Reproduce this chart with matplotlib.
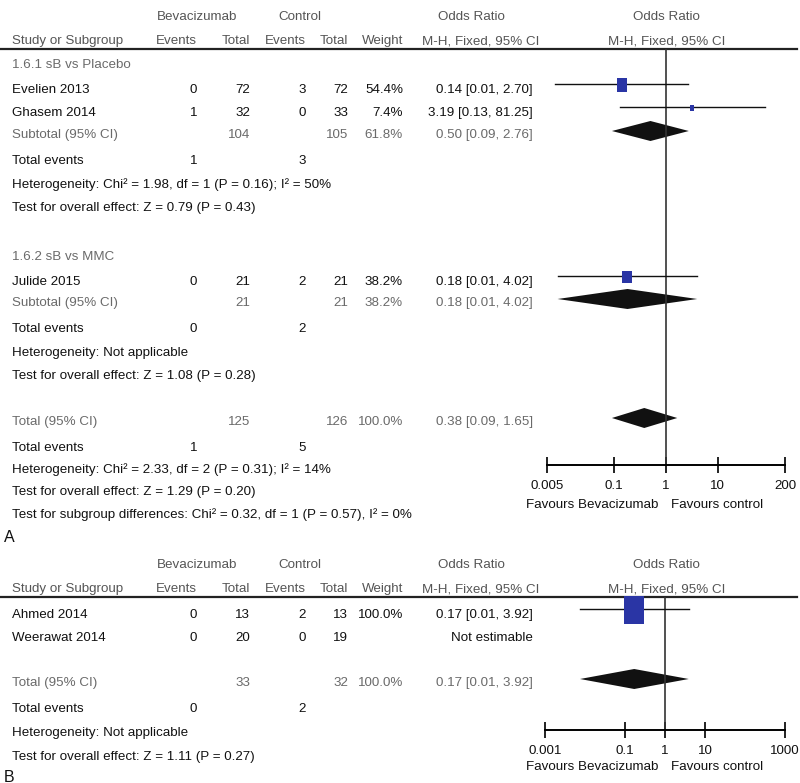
import numpy as np
import matplotlib.pyplot as plt

plt.rcParams['font.family'] = ['Liberation Sans', 'DejaVu Sans']

#%% data, panel A
groups_a = ['1.6.1 sB vs Placebo', '1.6.2 sB vs MMC']
studies_a = ['Evelien 2013', 'Ghasem 2014', 'Julide 2015']
bev_events_a = [0, 1, 0]
bev_total_a = [72, 32, 21]
ctl_events_a = [3, 0, 2]
ctl_total_a = [72, 33, 21]
weight_a = [54.4, 7.4, 38.2]
or_a = [0.14, 3.19, 0.18]
lo_a = [0.007, 0.13, 0.008]      # drawn line ends (labels round to 0.01)
hi_a = [2.70, 81.25, 4.02]
or_text_a = ['0.14 [0.01, 2.70]', '3.19 [0.13, 81.25]', '0.18 [0.01, 4.02]']

sub_bev_total = [104, 21]
sub_ctl_total = [105, 21]
sub_weight = [61.8, 38.2]
sub_or = [0.50, 0.18]
sub_lo = [0.09, 0.008]
sub_hi = [2.76, 4.02]
sub_text = ['0.50 [0.09, 2.76]', '0.18 [0.01, 4.02]']
sub_bev_events = [1, 0]
sub_ctl_events = [3, 2]
sub_het = ['Heterogeneity: Chi² = 1.98, df = 1 (P = 0.16); I² = 50%',
           'Heterogeneity: Not applicable']
sub_z = ['Test for overall effect: Z = 0.79 (P = 0.43)',
         'Test for overall effect: Z = 1.08 (P = 0.28)']

tot_a = [125, 126, 100.0]
tot_a_or = [0.38, 0.09, 1.65]
tot_a_text = '0.38 [0.09, 1.65]'
tot_a_events = [1, 5]
tot_a_notes = ['Heterogeneity: Chi² = 2.33, df = 2 (P = 0.31); I² = 14%',
               'Test for overall effect: Z = 1.29 (P = 0.20)',
               'Test for subgroup differences: Chi² = 0.32, df = 1 (P = 0.57), I² = 0%']
ticks_a = [0.005, 0.1, 1, 10, 200]

#%% data, panel B
studies_b = ['Ahmed 2014', 'Weerawat 2014']
bev_events_b = [0, 0]
bev_total_b = [13, 20]
ctl_events_b = [2, 0]
ctl_total_b = [13, 19]
weight_b = [100.0, None]
or_b = [0.17, None]
lo_b = [0.0075, None]
hi_b = [3.92, None]
or_text_b = ['0.17 [0.01, 3.92]', 'Not estimable']

tot_b = [33, 32, 100.0]
tot_b_or = [0.17, 0.0075, 3.92]
tot_b_text = '0.17 [0.01, 3.92]'
tot_b_events = [0, 2]
tot_b_notes = ['Heterogeneity: Not applicable',
               'Test for overall effect: Z = 1.11 (P = 0.27)']
ticks_b = [0.001, 0.1, 1, 10, 1000]

#%% layout
W, H = 800, 783
FS = 9.6
BLACK, GRAY, HEAD = '#111111', '#6a6a6a', '#555555'
BLUE = '#2a35a5'
X_NAME, X_BEV_EV, X_BEV_TOT, X_CTL_EV, X_CTL_TOT, X_W, X_OR = 12, 197, 250, 306, 348, 403, 533
RECT = [(-0.37, -0.5), (0.37, -0.5), (0.37, 0.5), (-0.37, 0.5), (-0.37, -0.5)]

fig = plt.figure(figsize=(W / 100, H / 100), dpi=100)
tx = fig.add_axes([0, 0, 1, 1])
tx.set_xlim(0, W)
tx.set_ylim(H, 0)
tx.axis('off')


def put(x, y, s, ha='right', color=BLACK, size=FS):
    tx.text(x, y, s, ha=ha, va='center', color=color, fontsize=size)


def header(y0):
    put(197, y0, 'Bevacizumab', ha='center', color=HEAD)
    put(300, y0, 'Control', ha='center', color=HEAD)
    put(471, y0, 'Odds Ratio', ha='center', color=HEAD)
    put(666, y0, 'Odds Ratio', ha='center', color=HEAD)
    y1 = y0 + 24
    put(X_NAME, y1, 'Study or Subgroup', ha='left', color=HEAD)
    put(X_BEV_EV, y1, 'Events', color=HEAD)
    put(X_BEV_TOT, y1, 'Total', color=HEAD)
    put(X_CTL_EV, y1, 'Events', color=HEAD)
    put(X_CTL_TOT, y1, 'Total', color=HEAD)
    put(X_W, y1, 'Weight', color=HEAD)
    put(481, y1, 'M-H, Fixed, 95% CI', ha='center', color=HEAD)
    put(667, y1, 'M-H, Fixed, 95% CI', ha='center', color=HEAD)
    tx.plot([0, 797], [y0 + 32, y0 + 32], color='#222222', lw=1.6)


def forest_axes(x0, x1, ytop, ybot, lims, ticks, yfav):
    ax = fig.add_axes([x0 / W, 1 - ybot / H, (x1 - x0) / W, (ybot - ytop) / H])
    ax.set_xscale('log')
    ax.set_xlim(lims)
    ax.set_ylim(ybot, ytop)
    ax.patch.set_alpha(0)
    for s in ['top', 'left', 'right']:
        ax.spines[s].set_visible(False)
    ax.spines['bottom'].set_linewidth(1.4)
    ax.set_yticks([])
    ax.set_xticks(ticks)
    ax.set_xticklabels([f'{t:g}' for t in ticks])
    ax.minorticks_off()
    ax.tick_params(axis='x', direction='inout', length=12, width=1.3, pad=5,
                   labelsize=FS, colors=BLACK)
    ax.axvline(1, color='#333333', lw=1.2)
    put(592, yfav, 'Favours Bevacizumab', ha='center')
    put(717, yfav, 'Favours control', ha='center')
    return ax


def study(ax, y, name, be, bt, ce, ct, w, txt, est, lo, hi, scale):
    put(X_NAME, y, name, ha='left')
    put(X_BEV_EV, y, be)
    put(X_BEV_TOT, y, bt)
    put(X_CTL_EV, y, ce)
    put(X_CTL_TOT, y, ct)
    if w is not None:
        put(X_W, y, f'{w:.1f}%')
    put(X_OR, y, txt)
    if est is not None:
        ax.plot([lo, hi], [y - 6, y - 6], color=BLACK, lw=1, clip_on=False)
        ax.plot([est], [y - 5], marker=RECT, color=BLUE, ms=scale * np.sqrt(w),
                mew=0, clip_on=False)


def pooled(ax, y, label, bt, ct, w, txt, est, lo, hi):
    put(X_NAME, y, label, ha='left', color=GRAY)
    put(X_BEV_TOT, y, bt, color=GRAY)
    put(X_CTL_TOT, y, ct, color=GRAY)
    put(X_W, y, f'{w:.1f}%', color=GRAY)
    put(X_OR, y, txt, color=GRAY)
    yc = y - 4
    ax.fill([lo, est, hi, est], [yc, yc - 10, yc, yc + 10], color=BLACK, lw=0, clip_on=False)


#%% panel A
header(17)
axA = forest_axes(547, 785, 49, 465, (0.005, 200), ticks_a, 505)

study_rows = [[90, 113], [282]]
sub_rows = [135, 303]
k = 0
for g in range(2):
    put(X_NAME, study_rows[g][0] - 25, groups_a[g], ha='left', color=GRAY)
    for y in study_rows[g]:
        study(axA, y, studies_a[k], bev_events_a[k], bev_total_a[k], ctl_events_a[k],
              ctl_total_a[k], weight_a[k], or_text_a[k], or_a[k], lo_a[k], hi_a[k], 1.45)
        k += 1
    ys = sub_rows[g]
    pooled(axA, ys, 'Subtotal (95% CI)', sub_bev_total[g], sub_ctl_total[g], sub_weight[g],
           sub_text[g], sub_or[g], sub_lo[g], sub_hi[g])
    put(X_NAME, ys + 26, 'Total events', ha='left')
    put(X_BEV_EV, ys + 26, sub_bev_events[g])
    put(X_CTL_EV, ys + 26, sub_ctl_events[g])
    put(X_NAME, ys + 50, sub_het[g], ha='left')
    put(X_NAME, ys + 73, sub_z[g], ha='left')

pooled(axA, 422, 'Total (95% CI)', tot_a[0], tot_a[1], tot_a[2], tot_a_text,
       tot_a_or[0], tot_a_or[1], tot_a_or[2])
put(X_NAME, 448, 'Total events', ha='left')
put(X_BEV_EV, 448, tot_a_events[0])
put(X_CTL_EV, 448, tot_a_events[1])
for i, s in enumerate(tot_a_notes):
    put(X_NAME, 470 + 22.5 * i, s, ha='left')
put(4, 538, 'A', ha='left', size=11.5)

#%% panel B
header(565)
axB = forest_axes(545, 785, 597, 730, (0.001, 1000), ticks_b, 767)
for i, y in enumerate([615, 638]):
    study(axB, y, studies_b[i], bev_events_b[i], bev_total_b[i], ctl_events_b[i],
          ctl_total_b[i], weight_b[i], or_text_b[i], or_b[i], lo_b[i], hi_b[i], 2.0)
pooled(axB, 683, 'Total (95% CI)', tot_b[0], tot_b[1], tot_b[2], tot_b_text,
       tot_b_or[0], tot_b_or[1], tot_b_or[2])
put(X_NAME, 709, 'Total events', ha='left')
put(X_BEV_EV, 709, tot_b_events[0])
put(X_CTL_EV, 709, tot_b_events[1])
put(X_NAME, 733, tot_b_notes[0], ha='left')
put(X_NAME, 757, tot_b_notes[1], ha='left')
put(4, 777, 'B', ha='left', size=11.5)

fig.savefig('out.png', dpi=100)
